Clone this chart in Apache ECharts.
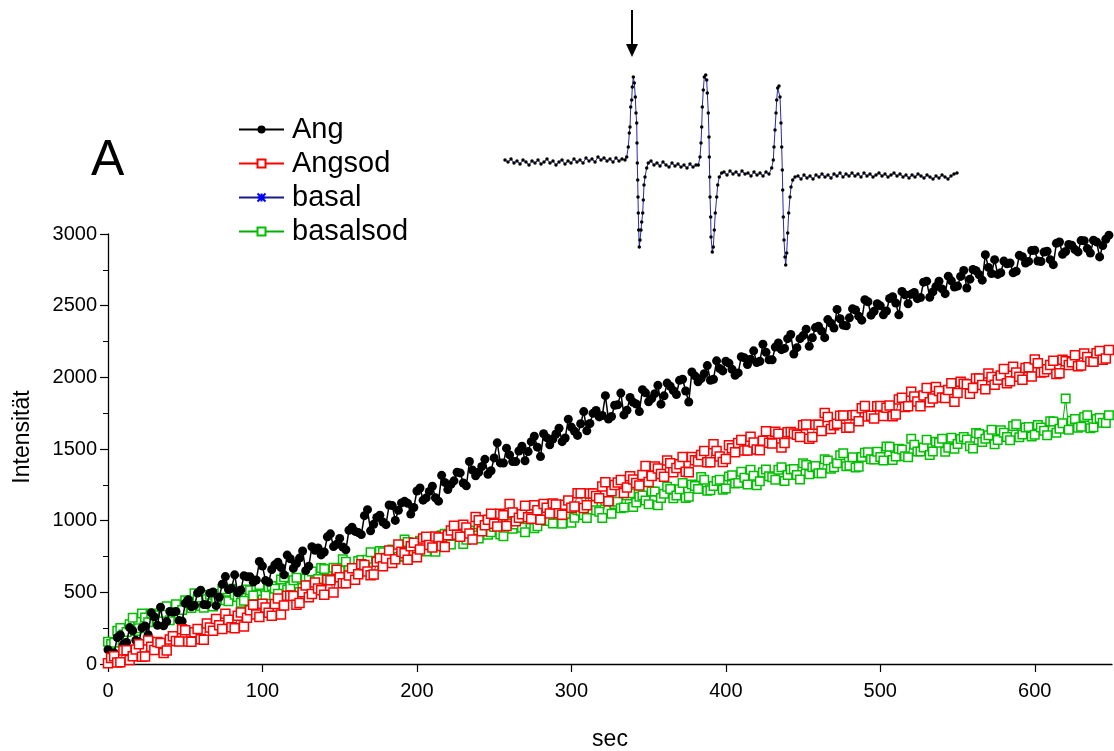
<!DOCTYPE html>
<html>
<head>
<meta charset="utf-8">
<title>Ang / Angsod / basal / basalsod</title>
<script src="https://cdn.jsdelivr.net/npm/echarts/dist/echarts.min.js"></script>
<style>
html, body { margin: 0; padding: 0; background: #fff; }
#chart { width: 1114px; height: 751px; }
</style>
</head>
<body>
<div id="chart"></div>
<script>
// one reading every 2 s, from 0 to 648 s
var sampleStep = 2;

var angValues = [
	100, 74, 77, 185, 203, 137, 150, 254, 232, 165, 153, 252, 265, 204, 357, 329,
	270, 396, 266, 296, 366, 362, 367, 303, 298, 423, 448, 399, 409, 495, 515, 415,
	414, 494, 503, 407, 466, 556, 610, 519, 528, 622, 496, 516, 615, 609, 608, 572,
	586, 715, 683, 582, 570, 659, 692, 710, 673, 622, 760, 734, 667, 701, 739, 788,
	651, 682, 818, 794, 810, 761, 781, 887, 908, 819, 835, 876, 816, 797, 933, 954,
	925, 917, 903, 1035, 1077, 929, 975, 1022, 1038, 990, 972, 1109, 1105, 1002, 1073, 1124,
	1135, 1121, 1046, 1092, 1207, 1228, 1143, 1159, 1204, 1240, 1160, 1136, 1316, 1267, 1217, 1253,
	1278, 1338, 1333, 1263, 1243, 1413, 1353, 1313, 1338, 1378, 1428, 1323, 1348, 1438, 1543, 1403,
	1402, 1506, 1459, 1413, 1412, 1486, 1519, 1418, 1482, 1551, 1589, 1513, 1447, 1606, 1579, 1529,
	1569, 1605, 1645, 1551, 1577, 1708, 1653, 1624, 1595, 1676, 1761, 1627, 1678, 1749, 1769, 1724,
	1734, 1872, 1709, 1727, 1805, 1808, 1890, 1738, 1771, 1859, 1826, 1814, 1761, 1914, 1892, 1830,
	1852, 1886, 1944, 1813, 1871, 1960, 1938, 1907, 1880, 1979, 1987, 1905, 1828, 2037, 2010, 1969,
	1992, 2025, 2082, 1980, 1987, 2115, 2062, 2045, 2112, 2099, 2056, 2014, 2031, 2144, 2136, 2089,
	2126, 2185, 2103, 2112, 2231, 2175, 2123, 2122, 2211, 2240, 2193, 2202, 2270, 2299, 2163, 2207,
	2270, 2291, 2336, 2216, 2276, 2347, 2357, 2322, 2277, 2403, 2378, 2344, 2474, 2409, 2364, 2360,
	2415, 2478, 2470, 2427, 2399, 2541, 2527, 2434, 2461, 2513, 2499, 2436, 2463, 2550, 2562, 2519,
	2436, 2599, 2576, 2513, 2580, 2592, 2549, 2557, 2664, 2671, 2558, 2596, 2633, 2670, 2617, 2584,
	2706, 2673, 2630, 2637, 2704, 2746, 2623, 2685, 2752, 2744, 2716, 2678, 2855, 2767, 2724, 2821,
	2718, 2730, 2811, 2792, 2798, 2729, 2740, 2851, 2842, 2798, 2809, 2885, 2886, 2812, 2808, 2874,
	2880, 2821, 2786, 2935, 2944, 2859, 2878, 2927, 2921, 2891, 2875, 2954, 2953, 2898, 2867, 2956,
	2945, 2840, 2919, 2963, 2992
];

var angsodValues = [
	5, 42, 54, 11, 12, 94, 96, 28, 54, 101, 138, 50, 52, 164, 120, 97,
	154, 146, 77, 94, 171, 193, 160, 157, 243, 235, 157, 155, 222, 245, 172, 170,
	282, 255, 232, 314, 271, 244, 351, 309, 256, 249, 336, 359, 261, 323, 375, 413,
	345, 328, 420, 394, 357, 336, 419, 457, 345, 409, 477, 476, 474, 413, 426, 500,
	548, 466, 489, 568, 526, 515, 483, 587, 585, 499, 657, 606, 564, 564, 618, 668,
	587, 627, 696, 691, 645, 620, 624, 713, 737, 682, 736, 791, 705, 730, 834, 784,
	773, 727, 821, 846, 745, 798, 875, 888, 830, 812, 889, 882, 824, 817, 899, 932,
	964, 901, 888, 971, 953, 911, 868, 1026, 1003, 926, 968, 1006, 1048, 979, 959, 1049,
	1038, 963, 1117, 1057, 996, 1021, 1045, 1104, 1023, 1013, 1107, 1072, 1006, 1116, 1090, 1050,
	1119, 1113, 1052, 1042, 1111, 1141, 1090, 1099, 1192, 1191, 1089, 1107, 1190, 1189, 1172, 1156,
	1239, 1268, 1136, 1205, 1248, 1266, 1284, 1193, 1231, 1310, 1288, 1262, 1245, 1319, 1382, 1269,
	1311, 1378, 1364, 1326, 1307, 1419, 1400, 1337, 1368, 1394, 1445, 1342, 1338, 1445, 1421, 1413,
	1459, 1486, 1407, 1408, 1534, 1486, 1447, 1409, 1430, 1526, 1506, 1477, 1542, 1563, 1489, 1490,
	1585, 1546, 1496, 1492, 1557, 1623, 1543, 1539, 1620, 1606, 1511, 1542, 1617, 1618, 1608, 1599,
	1584, 1665, 1671, 1572, 1583, 1669, 1670, 1626, 1752, 1723, 1639, 1665, 1676, 1732, 1733, 1649,
	1650, 1736, 1737, 1693, 1784, 1800, 1726, 1732, 1713, 1799, 1800, 1731, 1787, 1803, 1729, 1740,
	1846, 1857, 1793, 1799, 1900, 1866, 1832, 1798, 1874, 1925, 1826, 1852, 1933, 1904, 1860, 1856,
	1912, 1958, 1829, 1890, 1970, 1956, 1951, 1886, 1926, 1991, 1991, 1947, 1917, 2027, 2002, 1948,
	1983, 2013, 2058, 1958, 1973, 2074, 2034, 2004, 1984, 2065, 2070, 2005, 2125, 2099, 2033, 2038,
	2057, 2086, 2115, 2024, 2028, 2123, 2112, 2086, 2105, 2154, 2078, 2083, 2167, 2141, 2110, 2109,
	2168, 2183, 2122, 2131, 2190
];

// basal: entry in the legend only, no points visible on the plot
var basalValues = [];

var basalsodValues = [
	155, 139, 148, 232, 251, 205, 224, 278, 322, 231, 250, 352, 324, 291, 353, 340,
	307, 299, 356, 403, 305, 358, 416, 349, 377, 445, 433, 391, 494, 452, 405, 393,
	451, 484, 402, 440, 488, 521, 444, 437, 525, 484, 468, 427, 441, 520, 514, 478,
	542, 551, 450, 480, 535, 545, 525, 490, 590, 605, 520, 540, 585, 602, 503, 530,
	597, 609, 645, 582, 593, 670, 662, 594, 590, 672, 658, 650, 731, 713, 654, 631,
	652, 719, 725, 682, 728, 779, 675, 717, 788, 780, 741, 718, 799, 791, 747, 753,
	869, 851, 797, 789, 775, 860, 855, 785, 844, 864, 784, 844, 898, 908, 848, 833,
	893, 908, 942, 837, 867, 932, 916, 896, 876, 981, 961, 901, 920, 955, 994, 903,
	892, 991, 980, 944, 973, 1022, 951, 920, 1074, 1008, 947, 961, 1030, 1044, 998, 997,
	981, 1050, 1069, 978, 1047, 1091, 985, 1020, 1075, 1070, 1039, 1019, 1129, 1109, 1073, 1063,
	1018, 1138, 1133, 1048, 1117, 1132, 1087, 1092, 1176, 1191, 1096, 1126, 1166, 1176, 1140, 1115,
	1204, 1204, 1108, 1158, 1187, 1237, 1221, 1156, 1175, 1219, 1263, 1158, 1167, 1252, 1241, 1221,
	1305, 1285, 1209, 1213, 1242, 1277, 1286, 1216, 1225, 1308, 1316, 1260, 1263, 1341, 1299, 1253,
	1356, 1314, 1247, 1275, 1338, 1357, 1310, 1303, 1286, 1355, 1373, 1276, 1319, 1357, 1360, 1319,
	1287, 1401, 1389, 1324, 1373, 1382, 1331, 1330, 1429, 1419, 1363, 1372, 1401, 1456, 1470, 1379,
	1383, 1442, 1371, 1376, 1445, 1474, 1478, 1428, 1427, 1481, 1445, 1419, 1517, 1516, 1424, 1448,
	1502, 1496, 1449, 1443, 1571, 1530, 1483, 1482, 1510, 1564, 1458, 1482, 1550, 1544, 1572, 1481,
	1509, 1578, 1501, 1535, 1569, 1583, 1566, 1520, 1503, 1612, 1605, 1549, 1572, 1596, 1635, 1534,
	1562, 1631, 1614, 1583, 1561, 1660, 1673, 1582, 1601, 1650, 1653, 1587, 1600, 1668, 1650, 1628,
	1596, 1694, 1691, 1614, 1642, 1680, 1852, 1635, 1697, 1710, 1648, 1656, 1723, 1736, 1644, 1652,
	1709, 1717, 1684, 1682, 1735
];

// inset spectrum (field position, signal) in the inset's own units
var insetField = [
	2, 5, 8, 11, 14, 17, 20, 23, 26, 29, 32, 35, 38, 41, 44, 47, 50, 53, 56, 59, 62, 65, 68, 71,
	74, 77, 80, 83, 86, 89, 92, 95, 98, 101, 104, 107, 110, 113, 116, 119, 122,
	123.7, 125.3, 126.3, 127, 127.7, 128.7, 129.3, 130.3, 131.3, 132.3, 133, 133.7, 134, 134.3,
	134.7, 135, 135.3, 135.7, 136.3, 137, 138, 138.7, 139.7, 140.3, 141, 142, 143.7, 145.3,
	148, 151, 154, 157, 160, 163, 166, 169, 172, 175, 178, 181, 184, 187, 190, 193, 195.3,
	197, 198, 198.7, 199.3, 200.3, 201.3, 202.7, 203.7, 204.3, 205.3, 206, 206.3, 206.7, 207,
	207.7, 208, 209.3, 210.3, 211.3, 212.3, 213.7, 214.7, 216.3, 218.7,
	221, 224, 227, 230, 233, 236, 239, 242, 245, 248, 251, 254, 257, 260, 263, 266, 268.7,
	270.3, 271, 272, 273, 273.7, 274.7, 276, 277, 278, 278.7, 279.3, 279.7, 280.3, 281, 282,
	282.7, 283.7, 284.7, 285.7, 287, 288, 289.7, 292,
	295, 298, 301, 304, 307, 310, 313, 316, 319, 322, 325, 328, 331, 334, 337, 340, 343, 346,
	349, 352, 355, 358, 361, 364, 367, 370, 373, 376, 379, 382, 385, 388, 391, 394, 397, 400,
	403, 406, 409, 412, 415, 418, 421, 424, 427, 430, 433, 436, 439, 442, 445, 448, 451, 454
];
var insetSignal = [
	0, -2, 1, -3, -1, -4, 0, -2, -5, -1, -3, 0, -4, -2, 1, -3, -1, -5, -2, 0, -4, -1, -3, 1,
	-2, 0, -3, 2, -1, 1, -2, 3, 0, 2, -1, 1, -2, 2, -1, 1, 0,
	3, 13, 27, 33, 53, 60, 73, 83, 77, 63, 47, 37, 17, -3,
	-20, -37, -53, -70, -87, -80, -70, -62, -53, -40, -25, -17, -8, -3,
	-1, -5, -3, -6, -2, -5, -7, -3, -6, -4, -7, -5, -8, -4, -7, -5, -5,
	3, 17, 33, 53, 70, 83, 85, 80, 67, 47, 23, 3, -17, -37,
	-57, -77, -92, -87, -70, -53, -37, -25, -17, -13,
	-12, -15, -11, -14, -12, -15, -11, -14, -13, -16, -12, -15, -13, -16, -12, -14, -8,
	0, 13, 30, 47, 60, 72, 74, 63, 37, 13, -10, -30, -57, -80, -97,
	-105, -93, -73, -53, -37, -27, -20, -17,
	-16, -19, -15, -18, -16, -19, -15, -17, -14, -17, -15, -18, -14, -16, -13, -17, -14, -16,
	-13, -16, -14, -17, -13, -16, -14, -17, -15, -13, -16, -14, -17, -15, -13, -16, -14, -17,
	-15, -18, -15, -17, -14, -16, -18, -15, -17, -19, -16, -18, -15, -17, -19, -16, -14, -13
];

var font = 'Arial, "Liberation Sans", sans-serif';
var myChart;

function timePairs(values) {
	return values.map(function(v, i) {
		return [i * sampleStep, v];
	});
}

function insetPairs() {
	return insetField.map(function(f, i) {
		return [f, insetSignal[i]];
	});
}

function buildOption() {
	return {
		animation: false,
		backgroundColor: '#fff',
		textStyle: { fontFamily: font, color: '#000' },
		legend: {
			data: ['Ang', 'Angsod', 'basal', 'basalsod'],
			orient: 'vertical',
			left: 233,
			top: 110,
			itemWidth: 45,
			itemHeight: 10,
			itemGap: 5,
			selectedMode: false,
			textStyle: { fontFamily: font, fontSize: 29, color: '#000', padding: [0, 0, 0, 3] }
		},
		grid: [
			{ left: 108, top: 234, width: 1004, height: 430, outerBoundsMode: 'none' },
			{ left: 503, top: 70, width: 455, height: 200, outerBoundsMode: 'none' }
		],
		xAxis: [{
			type: 'value',
			min: 0,
			max: 650,
			interval: 100,
			name: 'sec',
			nameLocation: 'middle',
			nameGap: 64,
			nameTextStyle: { fontFamily: font, fontSize: 23, color: '#000' },
			axisLine: { lineStyle: { color: '#000', width: 1.3 } },
			axisTick: { length: 8, lineStyle: { color: '#000', width: 1.2 } },
			axisLabel: {
				margin: 17, fontFamily: font, fontSize: 20, color: '#000',
				showMaxLabel: false
			},
			splitLine: { show: false }
		}, {
			gridIndex: 1, type: 'value', min: 0, max: 455, show: false
		}],
		yAxis: [{
			type: 'value',
			min: 0,
			max: 3000,
			interval: 500,
			name: 'Intensität',
			nameLocation: 'middle',
			nameRotate: 90,
			nameGap: 74,
			nameTextStyle: {
				fontFamily: font, fontSize: 23, color: '#000',
				padding: [0, 0, 0, 24]
			},
			axisLine: { show: true, lineStyle: { color: '#000', width: 1.3 } },
			axisTick: { show: true, length: 8, lineStyle: { color: '#000', width: 1.2 } },
			minorTick: { show: true, splitNumber: 2, length: 5, lineStyle: { color: '#000', width: 1 } },
			axisLabel: {
				margin: 11, fontFamily: font, fontSize: 20, color: '#000',
				formatter: function(v) { return String(v); }
			},
			splitLine: { show: false }
		}, {
			gridIndex: 1, type: 'value', min: -110, max: 90, show: false
		}],
		series: [{
			name: 'basalsod',
			type: 'line',
			data: timePairs(basalsodValues),
			symbol: 'rect',
			symbolSize: 8.5,
			z: 2,
			itemStyle: { color: '#fff', borderColor: '#00c000', borderWidth: 1.5 },
			lineStyle: { color: '#00b000', width: 1 }
		}, {
			name: 'Ang',
			type: 'line',
			data: timePairs(angValues),
			symbol: 'circle',
			symbolSize: 9,
			z: 3,
			itemStyle: { color: '#000' },
			lineStyle: { color: '#000', width: 1.5 }
		}, {
			name: 'Angsod',
			type: 'line',
			data: timePairs(angsodValues),
			symbol: 'rect',
			symbolSize: 9,
			z: 4,
			itemStyle: { color: '#fff', borderColor: '#ff0000', borderWidth: 1.5 },
			lineStyle: { color: '#ff0000', width: 1 }
		}, {
			name: 'basal',
			type: 'line',
			data: timePairs(basalValues),
			symbol: 'path://M0,0L10,10M10,0L0,10M5,0L5,10M0,5L10,5',
			symbolSize: 9,
			itemStyle: { color: '#0000ff', borderColor: '#0000ff', borderWidth: 2 },
			lineStyle: { color: '#1a1a8c', width: 1.5 }
		}, {
			name: 'spectrum',
			type: 'line',
			xAxisIndex: 1,
			yAxisIndex: 1,
			data: insetPairs(),
			symbol: 'circle',
			symbolSize: 3.5,
			silent: true,
			itemStyle: { color: '#000' },
			lineStyle: { color: '#2a2aa8', width: 1 }
		}],
		graphic: [{
			type: 'text',
			left: 91,
			top: 136,
			style: { text: 'A', font: '50px ' + font, fill: '#000' }
		}, {
			type: 'line',
			shape: { x1: 632, y1: 10, x2: 632, y2: 46 },
			style: { stroke: '#000', lineWidth: 2 }
		}, {
			type: 'polygon',
			shape: { points: [[626, 44], [638, 44], [632, 57]] },
			style: { fill: '#000' }
		}]
	};
}

function initChart() {
	if (myChart && myChart.dispose) {
		myChart.dispose();
	}
	myChart = echarts.init(document.getElementById('chart'), null, { renderer: 'canvas' });
	myChart.setOption(buildOption(), true);
	window.onresize = myChart.resize;
}

initChart();
</script>
</body>
</html>
